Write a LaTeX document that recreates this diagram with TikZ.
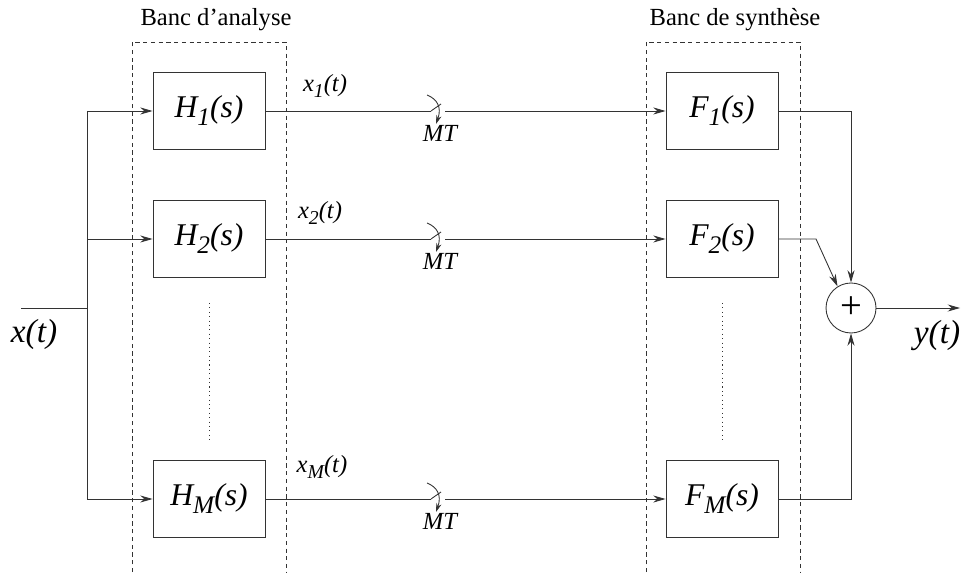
\documentclass[tikz,border=0pt]{standalone}
\usepackage{fontspec}
\setmainfont{Liberation Serif}
\usetikzlibrary{arrows.meta,calc}
\newcommand{\lowsub}[1]{\raisebox{-0.55ex}{\scalebox{0.8}{#1}}}

\begin{document}
\begin{tikzpicture}[x=0.02cm,y=-0.02cm,
    line width=0.5pt,draw=black!80,
    arr/.style={-{Stealth[length=7pt,width=4pt]}},
    filterbox/.style={draw,minimum width=2.24cm,minimum height=1.54cm,
      font=\fontsize{18}{20}\selectfont\itshape},
    bank/.style={dash pattern=on 2.4pt off 2pt},
    dots/.style={dash pattern=on 0.6pt off 1.9pt},
    sig/.style={font=\fontsize{14}{16}\selectfont\itshape},
    bigsig/.style={font=\fontsize{19}{22}\selectfont\itshape}]
  \useasboundingbox (0,0) rectangle (962,573);

  % banks
  \draw[bank] (132,572) -- (132,42) -- (286,42) -- (286,572);
  \draw[bank] (646,572) -- (646,42) -- (800,42) -- (800,572);
  \node[font=\fontsize{14}{16}\selectfont] (anal) at (216,20) {Banc d'analyse};
  \node[font=\fontsize{14}{16}\selectfont] (synth) at (735,20) {Banc de synthèse};

  % filters
  \node[filterbox] (H1) at (209,111) {H\lowsub{1}(s)};
  \node[filterbox] (H2) at (209,239) {H\lowsub{2}(s)};
  \node[filterbox] (HM) at (209,499) {H\lowsub{M}(s)};
  \node[filterbox] (F1) at (722,111) {F\lowsub{1}(s)};
  \node[filterbox] (F2) at (722,239) {F\lowsub{2}(s)};
  \node[filterbox] (FM) at (722,499) {F\lowsub{M}(s)};
  \draw[dots] (209,303) -- (209,441);
  \draw[dots] (722,303) -- (722,441);

  % input
  \coordinate (in) at (21,308);
  \coordinate (bus) at (87,308);
  \coordinate (bustop) at (87,111);
  \coordinate (busbot) at (87,499);
  \node[bigsig] (xt) at (34,334) {x(t)};
  \draw (in) -- (bus);
  \draw (bustop) -- (busbot);
  \draw[arr] (bustop) -- (H1);
  \draw[arr] (87,239) coordinate (bus2) -- (H2);
  \draw[arr] (busbot) -- (HM);

  % sampling
  \foreach \r/\yy in {1/111,2/239,M/499}{
    \coordinate (swin\r) at (431,\yy);
    \coordinate (swout\r) at (445,\yy);
    \draw (H\r) -- (swin\r);
    \draw[arr] (swout\r) -- (F\r);
    \draw (swin\r) -- (441,\yy-7);
    \draw[-{Stealth[length=5pt,width=3pt]}] (427,\yy-16) .. controls (437,\yy-12) and (442,\yy-4) .. (436,\yy+13);
    \node[sig] (mt\r) at (440,\yy+22) {MT};
  }
  \node[sig] (x1) at (325,86) {x\lowsub{1}(t)};
  \node[sig] (x2) at (320,213) {x\lowsub{2}(t)};
  \node[sig] (xM) at (322,467) {x\lowsub{M}(t)};

  % sum
  \node[draw,circle,minimum size=1cm,inner sep=0pt,
    font=\fontsize{22}{24}\selectfont] (sum) at (851,308) {+};
  \draw[arr] (F1) -| (sum);
  \draw[arr] (FM) -| (sum);
  \draw[arr] (F2.east) -- (816,239) coordinate (kink) -- (sum.122);
  \coordinate (out) at (960,308);
  \draw[arr] (sum) -- (out);
  \node[bigsig] (yt) at (937,336) {y(t)};
\end{tikzpicture}
\end{document}
